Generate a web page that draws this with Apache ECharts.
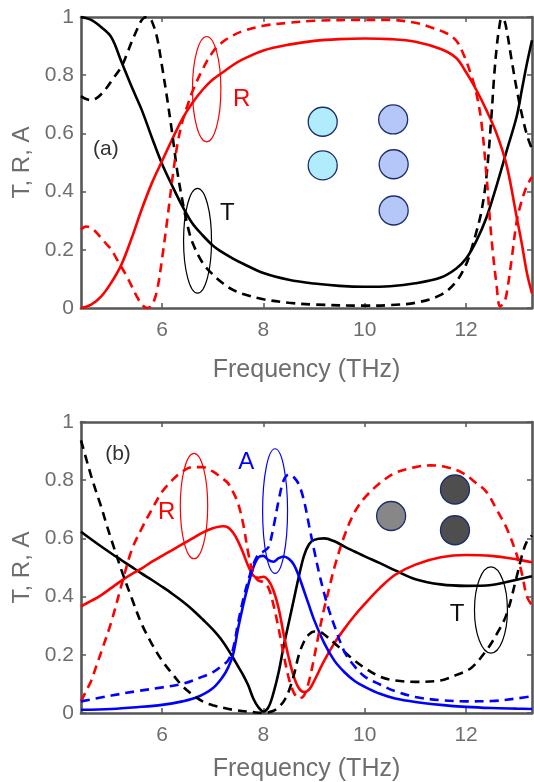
<!DOCTYPE html>
<html><head><meta charset="utf-8">
<script src="https://cdn.jsdelivr.net/npm/echarts@6/dist/echarts.min.js"></script>
<style>html,body{margin:0;padding:0;background:#fff}#c{width:534px;height:782px}</style>
</head><body><div id="c"></div>
<script>
// ---------- data ----------
const xTicks = [6, 8, 10, 12];
const yTicks = [0, 0.2, 0.4, 0.6, 0.8, 1];

// panel (a)
const aTsolid = [[4.4,1.0],[4.6,0.99],[4.8,0.965],[5.0,0.93],[5.2,0.845],[5.4,0.76],[5.6,0.68],[5.8,0.585],[6.0,0.495],[6.2,0.42],[6.4,0.35],[6.6,0.29],[6.8,0.25],[7.0,0.215],[7.2,0.19],[7.4,0.17],[7.6,0.152],[8.0,0.12],[8.5,0.097],[9.0,0.084],[9.5,0.076],[10.0,0.073],[10.5,0.075],[11.0,0.085],[11.5,0.105],[11.8,0.135],[12.0,0.17],[12.2,0.23],[12.4,0.31],[12.6,0.42],[12.8,0.54],[13.0,0.66],[13.1,0.75],[13.2,0.84],[13.3,0.92]];
const aRsolid = [[4.4,0.0],[4.6,0.012],[4.8,0.04],[5.0,0.088],[5.2,0.15],[5.4,0.24],[5.6,0.34],[5.8,0.43],[6.0,0.505],[6.2,0.58],[6.4,0.65],[6.6,0.705],[6.8,0.75],[7.0,0.785],[7.2,0.81],[7.4,0.835],[7.6,0.855],[8.0,0.885],[8.5,0.905],[9.0,0.918],[9.5,0.924],[10.0,0.926],[10.5,0.924],[11.0,0.915],[11.5,0.89],[11.8,0.86],[12.0,0.81],[12.2,0.75],[12.4,0.68],[12.6,0.6],[12.8,0.49],[13.0,0.31],[13.1,0.22],[13.2,0.12],[13.3,0.05]];
const aTdash = [[4.4,0.728],[4.5,0.718],[4.6,0.714],[4.7,0.72],[4.8,0.735],[4.9,0.755],[5.0,0.78],[5.2,0.83],[5.3,0.87],[5.4,0.915],[5.5,0.955],[5.55,0.975],[5.6,0.99],[5.65,0.998],[5.7,1.0],[5.75,0.996],[5.8,0.985],[5.9,0.93],[6.0,0.83],[6.1,0.72],[6.2,0.6],[6.3,0.47],[6.4,0.37],[6.5,0.285],[6.6,0.225],[6.8,0.155],[7.0,0.115],[7.2,0.085],[7.4,0.062],[7.6,0.048],[8.0,0.03],[8.5,0.018],[9.0,0.012],[10.0,0.008],[10.5,0.01],[11.0,0.018],[11.5,0.045],[11.8,0.09],[12.0,0.15],[12.1,0.2],[12.2,0.26],[12.3,0.33],[12.4,0.45],[12.5,0.66],[12.55,0.79],[12.6,0.89],[12.65,0.96],[12.7,0.995],[12.75,0.99],[12.8,0.955],[12.9,0.85],[13.0,0.75],[13.1,0.665],[13.2,0.595],[13.3,0.545]];
const aRdash = [[4.4,0.27],[4.5,0.28],[4.6,0.275],[4.7,0.26],[4.8,0.24],[4.9,0.22],[5.0,0.2],[5.1,0.17],[5.2,0.14],[5.3,0.11],[5.4,0.075],[5.5,0.04],[5.6,0.012],[5.7,0.0],[5.8,0.01],[5.9,0.06],[6.0,0.17],[6.1,0.3],[6.2,0.44],[6.3,0.56],[6.4,0.64],[6.5,0.695],[6.6,0.745],[6.8,0.82],[7.0,0.88],[7.2,0.915],[7.4,0.937],[7.6,0.952],[8.0,0.97],[8.5,0.98],[9.0,0.987],[10.0,0.99],[10.5,0.99],[11.0,0.98],[11.3,0.965],[11.6,0.945],[11.8,0.92],[11.9,0.89],[12.0,0.85],[12.1,0.8],[12.2,0.74],[12.3,0.64],[12.4,0.46],[12.5,0.24],[12.6,0.08],[12.67,0.005],[12.75,0.02],[12.8,0.05],[12.9,0.17],[13.0,0.3],[13.1,0.37],[13.2,0.42],[13.3,0.45]];

// panel (b)
const bTsolid = [[4.4,0.623],[4.6,0.597],[4.8,0.572],[5.0,0.548],[5.2,0.525],[5.4,0.502],[5.6,0.479],[5.8,0.457],[6.0,0.434],[6.2,0.41],[6.4,0.384],[6.6,0.355],[6.8,0.322],[7.0,0.287],[7.2,0.245],[7.4,0.19],[7.5,0.16],[7.6,0.13],[7.7,0.095],[7.8,0.05],[7.9,0.02],[8.0,0.005],[8.1,0.02],[8.2,0.07],[8.3,0.14],[8.4,0.23],[8.5,0.31],[8.6,0.39],[8.7,0.47],[8.8,0.54],[8.9,0.58],[9.0,0.595],[9.2,0.6],[9.4,0.59],[9.6,0.572],[9.8,0.555],[10.0,0.538],[10.3,0.515],[10.6,0.49],[11.0,0.46],[11.5,0.442],[12.0,0.437],[12.5,0.44],[13.0,0.458],[13.3,0.47]];
const bRsolid = [[4.4,0.366],[4.6,0.385],[4.8,0.405],[5.0,0.43],[5.2,0.455],[5.4,0.477],[5.6,0.497],[5.8,0.52],[6.0,0.54],[6.2,0.56],[6.4,0.58],[6.6,0.6],[6.8,0.62],[7.0,0.635],[7.2,0.642],[7.3,0.638],[7.4,0.62],[7.5,0.59],[7.6,0.55],[7.7,0.505],[7.8,0.472],[7.9,0.465],[8.0,0.468],[8.1,0.455],[8.2,0.42],[8.3,0.36],[8.4,0.27],[8.5,0.19],[8.6,0.125],[8.7,0.085],[8.8,0.072],[8.9,0.08],[9.0,0.11],[9.2,0.18],[9.4,0.24],[9.6,0.29],[9.8,0.335],[10.0,0.375],[10.3,0.43],[10.6,0.475],[11.0,0.51],[11.5,0.535],[12.0,0.543],[12.5,0.54],[13.0,0.528],[13.3,0.518]];
const bTdash = [[4.4,0.937],[4.5,0.875],[4.6,0.815],[4.7,0.76],[4.8,0.708],[4.9,0.65],[5.0,0.595],[5.2,0.49],[5.4,0.395],[5.6,0.305],[5.8,0.237],[6.0,0.18],[6.2,0.135],[6.4,0.093],[6.6,0.063],[6.8,0.04],[7.0,0.027],[7.4,0.011],[7.8,0.003],[8.0,0.0],[8.2,0.008],[8.3,0.02],[8.4,0.04],[8.5,0.075],[8.6,0.13],[8.7,0.2],[8.8,0.245],[8.9,0.27],[9.0,0.28],[9.1,0.28],[9.2,0.27],[9.4,0.24],[9.6,0.21],[9.8,0.18],[10.0,0.155],[10.3,0.125],[10.6,0.112],[11.0,0.107],[11.5,0.112],[11.8,0.13],[12.1,0.155],[12.4,0.215],[12.6,0.27],[12.8,0.34],[13.0,0.47],[13.1,0.54],[13.2,0.59],[13.3,0.61]];
const bRdash = [[4.4,0.04],[4.5,0.075],[4.6,0.11],[4.7,0.16],[4.8,0.21],[5.0,0.314],[5.2,0.44],[5.4,0.56],[5.6,0.635],[5.8,0.7],[6.0,0.76],[6.2,0.8],[6.4,0.83],[6.6,0.845],[6.8,0.845],[7.0,0.83],[7.2,0.805],[7.3,0.79],[7.4,0.76],[7.5,0.72],[7.6,0.65],[7.7,0.55],[7.8,0.48],[7.9,0.455],[8.0,0.45],[8.1,0.43],[8.2,0.37],[8.3,0.29],[8.4,0.2],[8.5,0.12],[8.6,0.07],[8.7,0.05],[8.8,0.06],[8.9,0.11],[9.0,0.19],[9.1,0.28],[9.2,0.36],[9.3,0.43],[9.4,0.5],[9.6,0.61],[9.8,0.69],[10.0,0.74],[10.3,0.79],[10.6,0.825],[11.0,0.845],[11.3,0.851],[11.6,0.845],[11.9,0.828],[12.2,0.79],[12.4,0.76],[12.6,0.7],[12.8,0.635],[13.0,0.543],[13.1,0.48],[13.2,0.4],[13.3,0.37]];
const bAsolid = [[4.4,0.011],[5.0,0.014],[5.5,0.02],[6.0,0.028],[6.4,0.04],[6.7,0.055],[7.0,0.085],[7.2,0.125],[7.3,0.155],[7.4,0.2],[7.5,0.29],[7.6,0.37],[7.7,0.44],[7.8,0.5],[7.9,0.535],[8.0,0.54],[8.1,0.525],[8.2,0.52],[8.3,0.532],[8.4,0.538],[8.5,0.53],[8.6,0.51],[8.7,0.47],[8.8,0.42],[8.9,0.37],[9.0,0.32],[9.2,0.24],[9.4,0.18],[9.6,0.14],[9.8,0.11],[10.0,0.09],[10.3,0.066],[10.6,0.05],[11.0,0.038],[11.5,0.028],[12.0,0.021],[12.5,0.017],[13.0,0.015],[13.3,0.014]];
const bAdash = [[4.4,0.04],[5.0,0.06],[5.5,0.075],[6.0,0.088],[6.4,0.1],[6.8,0.125],[7.0,0.14],[7.2,0.165],[7.3,0.18],[7.4,0.22],[7.5,0.31],[7.6,0.39],[7.7,0.455],[7.8,0.51],[7.9,0.545],[8.0,0.555],[8.1,0.57],[8.2,0.64],[8.3,0.73],[8.4,0.8],[8.5,0.82],[8.6,0.81],[8.7,0.785],[8.8,0.73],[8.9,0.645],[9.0,0.56],[9.1,0.48],[9.2,0.41],[9.3,0.35],[9.4,0.3],[9.6,0.21],[9.8,0.16],[10.0,0.125],[10.3,0.098],[10.6,0.075],[11.0,0.055],[11.5,0.044],[12.0,0.04],[12.5,0.041],[13.0,0.05],[13.3,0.058]];

// decorative discs (data coordinates)
const aDiscsCyan = [[9.17,0.64],[9.17,0.49]];
const aDiscsBlue = [[10.56,0.648],[10.57,0.494],[10.57,0.335]];
const bDiscsLight = [[10.52,0.677]];
const bDiscsDark = [[11.78,0.768],[11.78,0.628]];

// annotations (data coordinates)
const ellipses = [
  {grid:0, x:6.88, y:0.752, rx:0.28, ry:0.181, color:'#ff0000'},
  {grid:0, x:6.70, y:0.231, rx:0.276, ry:0.18, color:'#000000'},
  {grid:1, x:6.63, y:0.711, rx:0.27, ry:0.181, color:'#ff0000'},
  {grid:1, x:8.23, y:0.694, rx:0.246, ry:0.214, color:'#0000ff'},
  {grid:1, x:12.49, y:0.354, rx:0.325, ry:0.148, color:'#000000'}
];
const texts = [
  {grid:0, x:7.57, y:0.717, t:'R', color:'#ff0000', size:24},
  {grid:0, x:7.29, y:0.326, t:'T', color:'#111111', size:24},
  {grid:0, x:4.89, y:0.546, t:'(a)', color:'#333333', size:21},
  {grid:1, x:6.09, y:0.69, t:'R', color:'#ff0000', size:24},
  {grid:1, x:7.66, y:0.862, t:'A', color:'#0000ff', size:24},
  {grid:1, x:11.82, y:0.34, t:'T', color:'#111111', size:24},
  {grid:1, x:5.13, y:0.89, t:'(b)', color:'#333333', size:21}
];

// ---------- chart ----------
const FONT = 'Liberation Sans';
const FRAME = '#575757';
const LBL = '#6e6e6e';

function xAx(gi, pos) {
  const bottom = pos === 'bottom';
  return {
    type:'value', gridIndex:gi, position:pos, min:4.4, max:13.3,
    axisLine:{show:true, onZero:false, lineStyle:{color:FRAME, width:2.6}},
    axisTick:{show:true, inside:true, length:5, customValues:xTicks, lineStyle:{color:FRAME, width:1.5}},
    axisLabel:{show:bottom, customValues:xTicks, color:LBL, fontSize:21, fontFamily:FONT, margin:12},
    splitLine:{show:false},
    name: bottom ? 'Frequency (THz)' : '',
    nameLocation:'middle', nameGap: gi === 0 ? 50 : 44,
    nameTextStyle:{color:LBL, fontSize:25, fontFamily:FONT}
  };
}
function yAx(gi, pos) {
  const left = pos === 'left';
  return {
    type:'value', gridIndex:gi, position:pos, min:0, max:1, interval:0.2,
    axisLine:{show:true, onZero:false, lineStyle:{color:FRAME, width:2.6}},
    axisTick:{show:true, inside:true, length:5, lineStyle:{color:FRAME, width:1.5}},
    axisLabel:{show:left, color:LBL, fontSize:21, fontFamily:FONT, margin:7},
    splitLine:{show:false},
    name: left ? 'T, R, A' : '',
    nameLocation:'middle', nameGap:45,
    nameTextStyle:{color:LBL, fontSize:24, fontFamily:FONT}
  };
}
function line(data, gi, color, dashed) {
  return {
    type:'line', data:data, xAxisIndex:gi*2, yAxisIndex:gi*2,
    smooth:0.35, symbol:'none', showSymbol:false, silent:true,
    lineStyle:{color:color, width:2.6, type: dashed ? [9,6] : 'solid'},
    z:3
  };
}
function discs(data, gi, color) {
  return {
    type:'scatter', data:data, xAxisIndex:gi*2, yAxisIndex:gi*2,
    symbol:'circle', symbolSize:29, silent:true,
    itemStyle:{color:color, borderColor:'#1c2d6b', borderWidth:1.3, opacity:1},
    z:2
  };
}

const chart = echarts.init(document.getElementById('c'), null, {renderer:'canvas'});
const option = {
  backgroundColor:'#ffffff',
  animation:false,
  grid:[
    {left:81, top:17, width:451, height:291, containLabel:false, outerBoundsMode:'none'},
    {left:81, top:422, width:451, height:291, containLabel:false, outerBoundsMode:'none'}
  ],
  xAxis:[xAx(0,'bottom'), xAx(0,'top'), xAx(1,'bottom'), xAx(1,'top')],
  yAxis:[yAx(0,'left'), yAx(0,'right'), yAx(1,'left'), yAx(1,'right')],
  series:[
    discs(aDiscsCyan, 0, '#b0ecfb'),
    discs(aDiscsBlue, 0, '#b4c7f8'),
    discs(bDiscsLight, 1, '#878787'),
    discs(bDiscsDark, 1, '#4e4e4e'),
    line(aTsolid, 0, '#000000', false),
    line(aRsolid, 0, '#ff0000', false),
    line(aTdash, 0, '#000000', true),
    line(aRdash, 0, '#ff0000', true),
    line(bTsolid, 1, '#000000', false),
    line(bRsolid, 1, '#ff0000', false),
    line(bAsolid, 1, '#0000ff', false),
    line(bTdash, 1, '#000000', true),
    line(bRdash, 1, '#ff0000', true),
    line(bAdash, 1, '#0000ff', true)
  ]
};
chart.setOption(option);

const g = [];
ellipses.forEach(e => {
  const c = chart.convertToPixel({gridIndex:e.grid}, [e.x, e.y]);
  const p = chart.convertToPixel({gridIndex:e.grid}, [e.x + e.rx, e.y + e.ry]);
  g.push({type:'ellipse', silent:true, z:100,
    shape:{cx:c[0], cy:c[1], rx:Math.abs(p[0]-c[0]), ry:Math.abs(p[1]-c[1])},
    style:{fill:null, stroke:e.color, lineWidth:1.2}});
});
texts.forEach(t => {
  const c = chart.convertToPixel({gridIndex:t.grid}, [t.x, t.y]);
  g.push({type:'text', silent:true, z:100, x:c[0], y:c[1],
    style:{text:t.t, fill:t.color, font:t.size + 'px "' + FONT + '"', align:'center', verticalAlign:'middle'}});
});
chart.setOption({graphic:g});
</script>
</body></html>
